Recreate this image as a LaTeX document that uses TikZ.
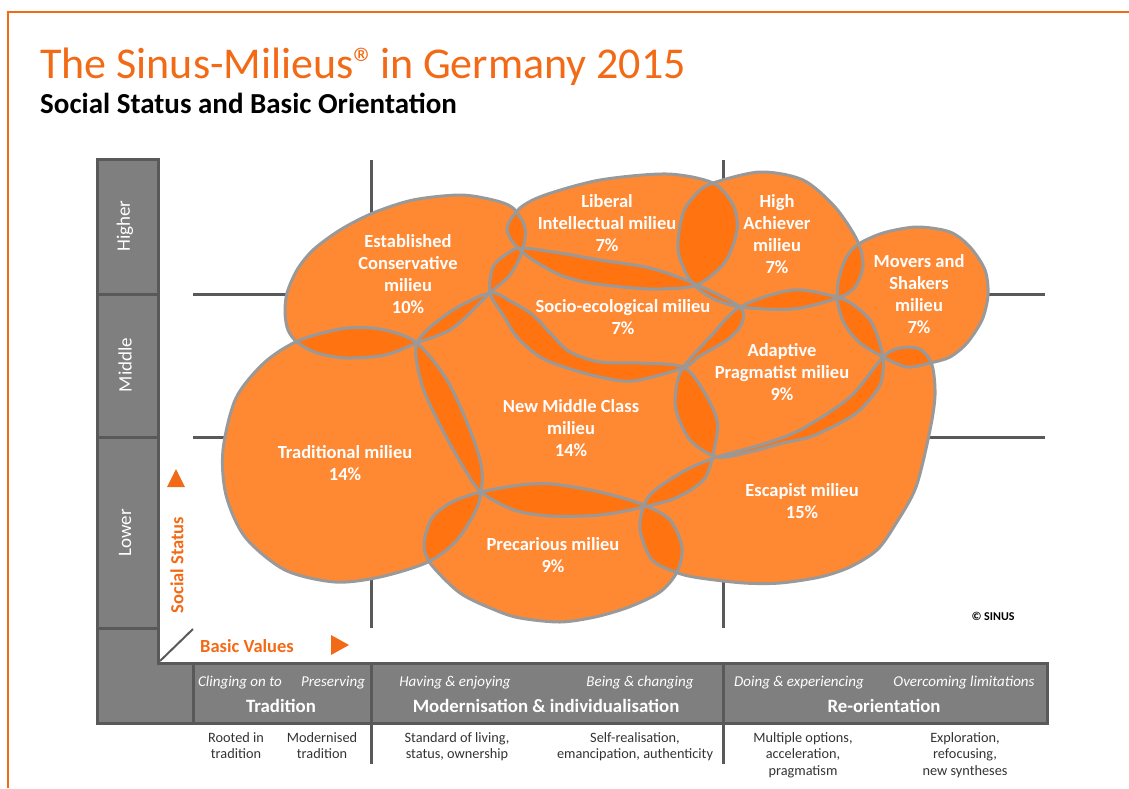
\documentclass[tikz,border=0pt]{standalone}
\usepackage{fontspec}
\setmainfont{Carlito}
\usepackage{tikz}
\usetikzlibrary{positioning}
\definecolor{sinus}{RGB}{243,106,22}
\definecolor{blob}{RGB}{255,112,10}
\definecolor{rim}{RGB}{153,153,153}
\definecolor{axfill}{RGB}{127,127,127}
\definecolor{axline}{RGB}{89,89,89}
\newcommand{\fs}[2]{\fontsize{#1}{#2}\selectfont}

% milieu outlines (x right, y down)
\newcommand{\milEC}{plot[smooth cycle] coordinates {(285,313) (287,293) (297,270) (313,250) (340,230) (373,213) (413,200) (460,195) (493,200) (513,208) (525,228) (522,252) (510,275) (490,293) (453,328) (417,343) (385,355) (347,358) (317,353) (297,342) (288,330)}}
\newcommand{\milTR}{plot[smooth cycle] coordinates {(223,450) (236,398) (265,362) (300,340) (347,328) (385,330) (417,343) (447,380) (470,430) (482,470) (478,505) (457,540) (428,562) (380,577) (335,582) (285,570) (245,537) (226,495)}}
\newcommand{\milNMC}{plot[smooth cycle] coordinates {(417,343) (450,312) (490,293) (512,302) (533,315) (552,335) (570,352) (600,362) (640,363) (683,367) (703,390) (717,420) (715,445) (705,478) (678,497) (644,507) (600,515) (550,516) (514,510) (481,492) (462,465) (440,425) (422,385)}}
\newcommand{\milSE}{plot[smooth cycle] coordinates {(490,293) (493,267) (508,253) (522,248) (560,253) (600,260) (650,268) (693,283) (740,307) (741,325) (727,340) (700,356) (683,368) (633,381) (600,377) (567,368) (540,357) (517,337) (503,315)}}
\newcommand{\milLI}{plot[smooth cycle] coordinates {(507,228) (520,208) (545,195) (600,180) (667,174) (713,183) (733,205) (737,230) (725,262) (697,285) (660,289) (633,288) (590,283) (560,275) (533,260) (515,245)}}
\newcommand{\milHA}{plot[smooth cycle] coordinates {(713,183) (760,172) (803,180) (835,207) (857,240) (863,265) (855,287) (838,298) (793,309) (740,307) (710,297) (690,280) (678,250) (683,213) (697,193)}}
\newcommand{\milMS}{plot[smooth cycle] coordinates {(838,283) (845,260) (857,245) (883,233) (917,227) (950,232) (970,247) (985,270) (988,295) (982,320) (967,343) (950,357) (930,363) (907,367) (883,357) (860,343) (845,325) (838,305)}}
\newcommand{\milAP}{plot[smooth cycle] coordinates {(740,307) (793,290) (840,298) (860,310) (873,325) (883,357) (880,385) (860,410) (840,423) (810,437) (783,443) (750,452) (717,457) (690,440) (676,410) (677,383) (685,365) (710,337)}}
\newcommand{\milES}{plot[smooth cycle] coordinates {(883,357) (900,348) (920,349) (932,365) (935,395) (930,430) (916,487) (895,525) (877,550) (850,567) (820,577) (780,583) (744,583) (700,578) (678,573) (652,560) (640,530) (644,505) (655,490) (686,470) (717,457) (760,445) (800,430) (850,397)}}
\newcommand{\milPR}{plot[smooth cycle] coordinates {(481,492) (520,485) (552,484) (600,492) (644,505) (670,520) (682,547) (677,572) (660,592) (629,607) (595,617) (560,622) (520,618) (495,610) (460,593) (430,563) (424,543) (432,518) (452,502)}}

\begin{document}
\begin{tikzpicture}[x=1pt,y=-1pt,
  grid/.style={line width=3pt,axline},
  axbox/.style={fill=axfill,draw=axline,line width=3pt},
  lab/.style={text=white,font=\fs{18.5}{22}\bfseries,align=center},
  axlbl/.style={text=white,font=\fs{19}{22},rotate=90},
  aim/.style={text=white,font=\fs{15}{17}\itshape},
  orient/.style={text=white,font=\fs{18.8}{20}\bfseries},
  note/.style={text=black!80,font=\fs{14.3}{16.5},align=center,anchor=north},
  dim/.style={text=sinus,font=\fs{18.5}{20}\bfseries}]
  \useasboundingbox (0,0) rectangle (1129,788);
  % frame and heading
  \draw[sinus,line width=2pt] (8,788) -- (8,12) -- (1129,12);
  \node[anchor=base west,inner sep=0pt,text=sinus,font=\fs{44}{50}] (title) at (40,78)
    {The Sinus-Milieus®\kern-6pt{} in Germany 2015};
  \node[anchor=base west,inner sep=0pt,font=\fs{29}{32}\bfseries] (subtitle) at (40,113)
    {Social Status and Basic Orientation};
  % grid
  \draw[grid] (371,160) -- (371,628);
  \draw[grid] (723,160) -- (723,628);
  \draw[grid] (193,294) -- (1045,294);
  \draw[grid] (193,437) -- (1045,437);
  % milieus
  \foreach \m in {\milEC,\milTR,\milNMC,\milSE,\milLI,\milHA,\milMS,\milAP,\milES,\milPR}
    \fill[white] \m;
  \foreach \m in {\milEC,\milTR,\milNMC,\milSE,\milLI,\milHA,\milMS,\milAP,\milES,\milPR}
    \fill[blob,fill opacity=0.83] \m;
  \foreach \m in {\milEC,\milTR,\milNMC,\milSE,\milLI,\milHA,\milMS,\milAP,\milES,\milPR}
    \draw[rim,line width=3pt] \m;
  \node[lab] (ec) at (408,274) {Established\\Conservative\\milieu\\10\%};
  \node[lab] (li) at (607,223) {Liberal\\Intellectual milieu\\7\%};
  \node[lab] (ha) at (777,234) {High\\Achiever\\milieu\\7\%};
  \node[lab] (ms) at (919,294) {Movers and\\Shakers\\milieu\\7\%};
  \node[lab] (se) at (623,317) {Socio-ecological milieu\\7\%};
  \node[lab] (ap) at (782,372) {Adaptive\\Pragmatist milieu\\9\%};
  \node[lab] (nmc) at (571,428) {New Middle Class\\milieu\\14\%};
  \node[lab] (tr) at (345,463) {Traditional milieu\\14\%};
  \node[lab] (es) at (802,501) {Escapist milieu\\15\%};
  \node[lab] (pr) at (553,555) {Precarious milieu\\9\%};
  \node[font=\fs{12}{14}\bfseries] (copy) at (993,616) {© SINUS};
  % social status axis
  \draw[axbox] (97,159) rectangle (158,294);
  \draw[axbox] (97,294) rectangle (158,437);
  \draw[axbox] (97,437) rectangle (158,628);
  \draw[axbox] (97,628) -- (158,628) -- (158,663) -- (193,663) -- (193,723) -- (97,723) -- cycle;
  \node[axlbl] (higher) at (125,226) {Higher};
  \node[axlbl] (middle) at (125,365) {Middle};
  \node[axlbl] (lower) at (125,533) {Lower};
  \draw[axline,line width=2pt] (160,661) -- (193,629);
  \node[dim,rotate=90] (status) at (177,565) {Social Status};
  \fill[sinus] (167,487) -- (185,487) -- (176,469) -- cycle;
  \node[dim] (values) at (247,646) {Basic Values};
  \fill[sinus] (331,635) -- (331,655) -- (349,645) -- cycle;
  % basic values axis
  \draw[axbox] (193,663) rectangle (371,723);
  \draw[axbox] (371,663) rectangle (723,723);
  \draw[axbox] (723,663) rectangle (1047,723);
  \draw[grid] (371,723) -- (371,764);
  \draw[grid] (723,723) -- (723,764);
  \node[aim] (cling) at (240,683) {Clinging on to};
  \node[aim] (preserve) at (333,683) {Preserving};
  \node[aim] (having) at (455,683) {Having \& enjoying};
  \node[aim] (being) at (640,683) {Being \& changing};
  \node[aim] (doing) at (799,683) {Doing \& experiencing};
  \node[aim] (overcome) at (964,683) {Overcoming limitations};
  \node[orient] (trad) at (281,706) {Tradition};
  \node[orient] (modern) at (546,706) {Modernisation \& individualisation};
  \node[orient] (reori) at (884,706) {Re-orientation};
  \node[note] (rooted) at (236,729) {Rooted in\\tradition};
  \node[note] (modtrad) at (322,729) {Modernised\\tradition};
  \node[note] (living) at (457,729) {Standard of living,\\status, ownership};
  \node[note] (selfreal) at (635,729) {Self-realisation,\\emancipation, authenticity};
  \node[note] (options) at (803,729) {Multiple options,\\acceleration,\\pragmatism};
  \node[note] (explore) at (965,729) {Exploration,\\refocusing,\\new syntheses};
\end{tikzpicture}
\end{document}
